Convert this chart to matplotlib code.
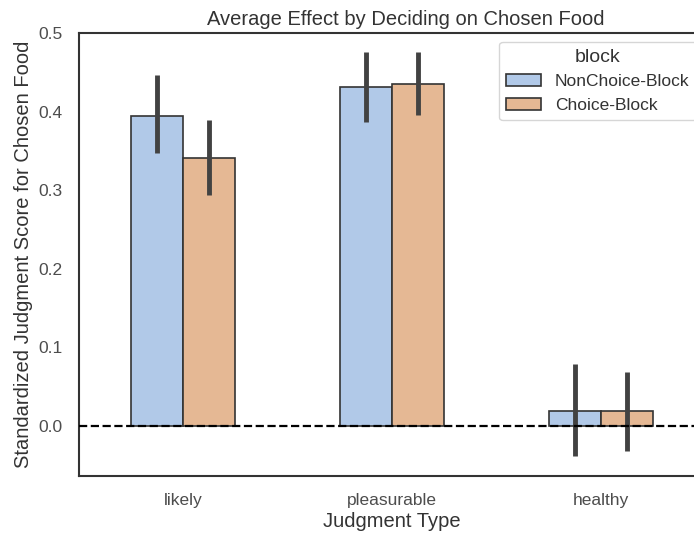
import numpy as np
import matplotlib
matplotlib.use("Agg")
import matplotlib.pyplot as plt
import seaborn as sns

sns.set_theme(style="white")
plt.rcParams["font.family"] = ["Liberation Sans", "DejaVu Sans"]

# judgment types and block hues
judgments = ["likely", "pleasurable", "healthy"]
blocks = ["NonChoice-Block", "Choice-Block"]

# mean standardized score per block
nonchoice_mean = [0.394, 0.431, 0.019]
choice_mean = [0.341, 0.435, 0.019]

# 95% CI bounds
nonchoice_lo = [0.347, 0.387, -0.039]
nonchoice_hi = [0.446, 0.476, 0.078]
choice_lo = [0.294, 0.396, -0.032]
choice_hi = [0.389, 0.476, 0.069]

colors = ["#b1c9e8", "#e5b894"]

fig = plt.figure(figsize=(6.94, 5.33), dpi=100)
ax = fig.add_axes([79 / 694, 1 - 476 / 533, 626 / 694, 443 / 533])

x = np.arange(len(judgments))
w = 0.25
means = [nonchoice_mean, choice_mean]
los = [nonchoice_lo, choice_lo]
his = [nonchoice_hi, choice_hi]
for i, blk in enumerate(blocks):
    pos = x + (i - 0.5) * w
    ax.bar(pos, means[i], width=w, color=colors[i], edgecolor=".2",
           linewidth=1.2, label=blk, zorder=2)
    ax.vlines(pos, los[i], his[i], color=".26", linewidth=3.5, zorder=3)

ax.axhline(0, color="black", linestyle="--", linewidth=1.6, zorder=4)

ax.set_xlim(-0.5, 2.5)
ax.set_ylim(-0.064, 0.5)
ax.set_xticks(x)
ax.set_xticklabels(judgments)
ax.set_yticks([0.0, 0.1, 0.2, 0.3, 0.4, 0.5])
ax.tick_params(labelsize=12.5, colors=".3", pad=6)
for s in ax.spines.values():
    s.set_color(".2")
    s.set_linewidth(1.5)

# title sits a bit right of the axes centre in the original
ax.set_title("Average Effect by Deciding on Chosen Food", fontsize=14.5, color=".2",
             x=(406 - 79) / 626)
ax.set_xlabel("Judgment Type", fontsize=14.5, color=".2", labelpad=3)
ax.set_ylabel("Standardized Judgment Score for Chosen Food", fontsize=14.5, color=".2")

leg = ax.legend(title="block", loc="upper right", fontsize=12.5, title_fontsize=14)
for t in leg.get_texts():
    t.set_color(".2")
leg.get_title().set_color(".2")

fig.savefig("out.png", dpi=100)
